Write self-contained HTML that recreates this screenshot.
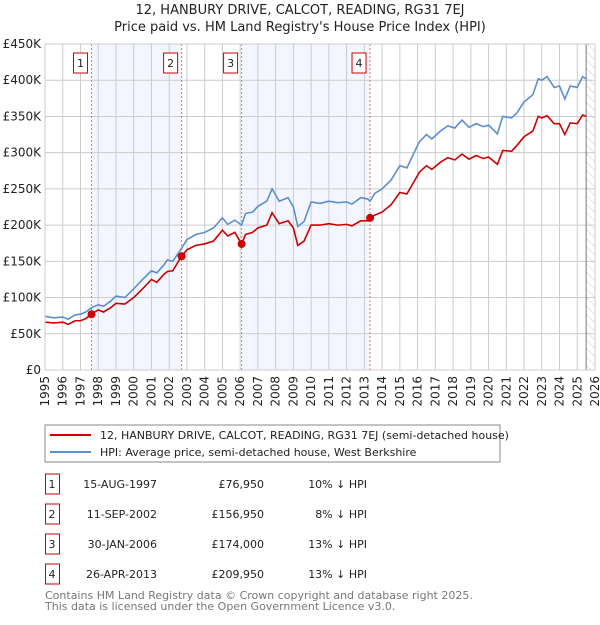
<!DOCTYPE html>
<html><head><meta charset="utf-8"><style>
body{margin:0;background:#fff;font-family:"Liberation Sans","DejaVu Sans",sans-serif;}
svg text{font-family:"DejaVu Sans","Liberation Sans",sans-serif;}
</style></head><body>
<svg id="c" width="600" height="620" viewBox="0 0 600 620" xmlns="http://www.w3.org/2000/svg">
<defs><pattern id="hatch" width="6" height="6" patternUnits="userSpaceOnUse" patternTransform="rotate(-45)"><line x1="0" y1="0" x2="0" y2="6" stroke="#ccc" stroke-width="1"/></pattern></defs>
<text x="300" y="14" font-size="13" text-anchor="middle" fill="#222">12, HANBURY DRIVE, CALCOT, READING, RG31 7EJ</text>
<text x="300" y="31" font-size="13" text-anchor="middle" fill="#222">Price paid vs. HM Land Registry's House Price Index (HPI)</text>
<g id="plot"></g>
<rect x="45" y="425" width="455" height="37" fill="#fff" stroke="#888"/>
<line x1="50" y1="435" x2="91" y2="435" stroke="#cc0000" stroke-width="2"/>
<text x="100" y="439" font-size="11" fill="#222">12, HANBURY DRIVE, CALCOT, READING, RG31 7EJ (semi-detached house)</text>
<line x1="50" y1="452" x2="91" y2="452" stroke="#5b8fd0" stroke-width="2"/>
<text x="100" y="456" font-size="11" fill="#222">HPI: Average price, semi-detached house, West Berkshire</text>
<g id="table"></g>
<text x="45" y="599" font-size="11" fill="#777">Contains HM Land Registry data © Crown copyright and database right 2025.</text>
<text x="45" y="610" font-size="11" fill="#777">This data is licensed under the Open Government Licence v3.0.</text>
</svg>
<script>
const years=[1995,1995.5,1996,1996.3,1996.7,1997,1997.3,1997.62,1998,1998.3,1998.7,1999,1999.5,2000,2000.5,2001,2001.3,2001.7,2001.9,2002.2,2002.7,2003,2003.5,2004,2004.5,2005,2005.3,2005.7,2006.08,2006.3,2006.7,2007,2007.5,2007.8,2008.2,2008.7,2009,2009.25,2009.6,2010,2010.5,2011,2011.5,2012,2012.3,2012.8,2013.2,2013.32,2013.6,2014,2014.5,2015,2015.4,2015.8,2016.1,2016.5,2016.8,2017.3,2017.7,2018.1,2018.5,2018.9,2019.3,2019.7,2020,2020.5,2020.8,2021.3,2021.6,2022,2022.5,2022.8,2023,2023.3,2023.7,2024,2024.3,2024.6,2025,2025.3,2025.5];
const hpiValues=[74,72,73,70,76,77,80,86,90,88,95,102,100,112,125,137,134,145,152,150,168,180,187,190,196,210,201,207,200,216,218,226,233,250,233,238,225,198,205,232,230,233,231,232,229,238,236,233,244,250,262,282,279,300,315,325,319,330,337,334,345,335,340,336,338,326,350,348,355,370,380,402,400,405,390,392,374,392,390,405,402];
const priceValues=[66,65,66,63,68,68,71,77,83,80,86,92,91,100,112,125,121,132,136,137,157,166,172,174,178,193,185,190,174,187,190,196,200,217,202,206,196,172,178,200,200,202,200,201,199,206,206,210,214,218,228,245,243,260,273,282,277,287,293,290,298,291,296,292,294,284,303,302,310,322,330,350,348,351,340,340,325,341,340,352,350];
const saleYears=[1997.62,2002.7,2006.08,2013.32];
const salePrices=[76.95,156.95,174,209.95];
const saleLabels=["1","2","3","4"];
const saleDates=["15-AUG-1997","11-SEP-2002","30-JAN-2006","26-APR-2013"];
const salePriceText=["£76,950","£156,950","£174,000","£209,950"];
const saleDiff=["10% ↓ HPI","8% ↓ HPI","13% ↓ HPI","13% ↓ HPI"];
const yTicks=[0,50,100,150,200,250,300,350,400,450];
const yTickLabels=["£0","£50K","£100K","£150K","£200K","£250K","£300K","£350K","£400K","£450K"];
const xTicks=[1995,1996,1997,1998,1999,2000,2001,2002,2003,2004,2005,2006,2007,2008,2009,2010,2011,2012,2013,2014,2015,2016,2017,2018,2019,2020,2021,2022,2023,2024,2025,2026];

const NS="http://www.w3.org/2000/svg";
const X0=45,X1=595,Y0=370,Y1=44;
const xs=y=>X0+(y-1995)/(2026-1995)*(X1-X0);
const ys=v=>Y0-v/450*(Y0-Y1);
const plot=document.getElementById('plot');
function mk(tag,attrs,parent){const e=document.createElementNS(NS,tag);for(const k in attrs)e.setAttribute(k,attrs[k]);(parent||plot).appendChild(e);return e;}
let s=mk('rect',{x:xs(saleYears[0]),y:Y1,width:xs(saleYears[1])-xs(saleYears[0]),height:Y0-Y1,fill:'#f3f6fe'});


s=mk('rect',{x:xs(saleYears[2]),y:Y1,width:xs(saleYears[3])-xs(saleYears[2]),height:Y0-Y1,fill:'#f3f6fe'});


s=mk('rect',{x:xs(2025.5),y:Y1,width:X1-xs(2025.5),height:Y0-Y1,fill:'url(#hatch)'});


yTicks.forEach((v,i)=>{
 const l=mk('line',{x1:X0,x2:X1,y1:ys(v),y2:ys(v),stroke:'#ccc','stroke-width':1});
 
 
 const t=mk('text',{x:X0-4,y:ys(v)+4,'font-size':12,'text-anchor':'end',fill:'#222'});
 t.textContent=yTickLabels[i];
 
 
});
xTicks.forEach(y=>{
 const l=mk('line',{x1:xs(y),x2:xs(y),y1:Y1,y2:Y0,stroke:'#ccc','stroke-width':1});
 
 
 const t=mk('text',{x:0,y:0,'font-size':12,'text-anchor':'end',fill:'#222',transform:`translate(${xs(y)+4},376) rotate(-90)`});
 t.textContent=y;
 
 
});
let ln=mk('line',{x1:xs(2025.5),x2:xs(2025.5),y1:Y1,y2:Y0,stroke:'#777','stroke-width':1});


saleYears.forEach((y,i)=>{
 const l=mk('line',{x1:xs(y),x2:xs(y),y1:Y1,y2:Y0,stroke:'#f07070','stroke-width':1,'stroke-dasharray':'2,2'});
 
 
 const r=mk('rect',{x:xs(y)-18,y:53,width:14,height:20,fill:'#fff',stroke:'#c00'});
 
 
 const t=mk('text',{x:xs(y)-11,y:67,'font-size':11,'text-anchor':'middle',fill:'#222'});
 t.textContent=saleLabels[i];
 
 
});
const hp=mk('polyline',{points:years.map((y,i)=>xs(y)+','+ys(hpiValues[i])).join(' '),fill:'none',stroke:'#5b8fd0','stroke-width':1.6});


const pp=mk('polyline',{points:years.map((y,i)=>xs(y)+','+ys(priceValues[i])).join(' '),fill:'none',stroke:'#cc0000','stroke-width':1.6});


saleYears.forEach((y,i)=>{
 const c=mk('circle',{cx:xs(y),cy:ys(salePrices[i]),r:4,fill:'#cc0000'});
 
 
});
let fr=mk('rect',{x:X0,y:Y1,width:X1-X0,height:Y0-Y1,fill:'none',stroke:'#ccc'});


const tb=document.getElementById('table');
saleLabels.forEach((lab,i)=>{
 const cy=484+i*30;
 const r=mk('rect',{x:45.5,y:cy-10,width:14,height:20,fill:'#fff',stroke:'#c00'},tb);
 
 
 const cells=[[52,lab,'middle'],[157,saleDates[i],'end'],[264,salePriceText[i],'end'],[367,saleDiff[i],'end']];
 cells.forEach((c,j)=>{
  const t=mk('text',{x:c[0],y:cy+4,'font-size':11,'text-anchor':c[2],fill:'#222'},tb);
  t.textContent=c[1];
  
  
 });
});
</script>
</body></html>
